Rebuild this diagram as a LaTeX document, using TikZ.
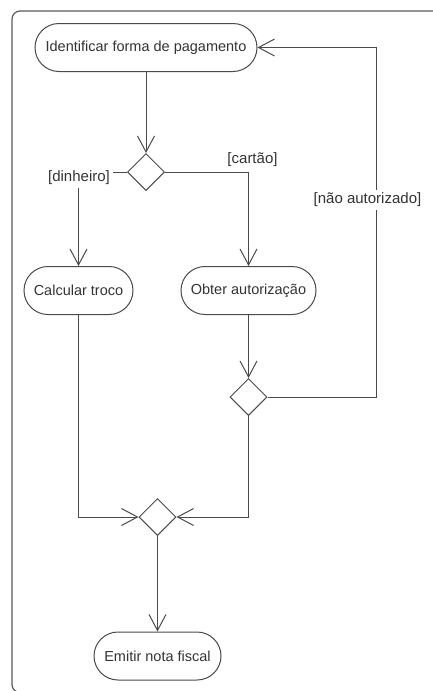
\documentclass[tikz,border=0pt]{standalone}
\usepackage{fontspec}
\setmainfont{Liberation Sans}
\usetikzlibrary{shapes.geometric,arrows.meta}
\definecolor{ink}{HTML}{4A4A4A}
\definecolor{txt}{HTML}{333333}
\definecolor{framec}{HTML}{5A5A5A}
\begin{document}
\begin{tikzpicture}[x=1pt,y=-1pt,
  act/.style={draw=ink, line width=1pt, rounded corners=24pt, minimum height=48pt,
    inner sep=0pt, text=txt, font=\fontsize{14.5}{17}\selectfont, fill=white},
  dec/.style={draw=ink, line width=1pt, diamond, minimum width=37pt, minimum height=37pt,
    inner sep=0pt, fill=white},
  flow/.style={draw=ink, line width=1pt, -{Straight Barb[length=16pt,width=17pt]}},
  guard/.style={text=txt, font=\fontsize{15}{18}\selectfont, inner sep=2pt},
  frame/.style={draw=framec, line width=1.2pt, rounded corners=8pt}]
\useasboundingbox (0,0) rectangle (433,691);
\clip (0,0) rectangle (433,691);

% enclosing panel
\draw[frame] (12,11) rectangle (470,692.5);

% activities and decision points
\node[act, minimum width=222pt] (ident) at (146,47.5) {Identificar forma de pagamento};
\node[dec] (d1) at (146,172) {};
\node[act, minimum width=109pt] (calc) at (78.5,290.5) {Calcular troco};
\node[act, minimum width=135pt] (obter) at (248.5,290.5) {Obter autorização};
\node[dec] (d2) at (248.5,397) {};
\node[dec] (merge) at (157.5,517) {};
\node[act, minimum width=127pt] (emit) at (157.5,656) {Emitir nota fiscal};
\coordinate (back) at (376,397);

% control flow
\draw[flow] (ident) -- (d1);
\draw[flow] (d1.west) -| (calc.north);
\draw[flow] (d1.east) -| (obter.north);
\draw[flow] (obter) -- (d2);
\draw[flow] (d2.east) -- (back) |- (ident.east);
\draw[flow] (d2.south) |- (merge.east);
\draw[flow] (calc.south) |- (merge.west);
\draw[flow] (merge) -- (emit);

% guards
\node[guard, fill=white, inner xsep=3pt, inner ysep=3pt] (g1) at (79,178) {[dinheiro]};
\node[guard] (g2) at (252.5,160) {[cartão]};
\node[guard, fill=white, inner ysep=3pt] (g3) at (367.5,200) {[não autorizado]};
\end{tikzpicture}
\end{document}
